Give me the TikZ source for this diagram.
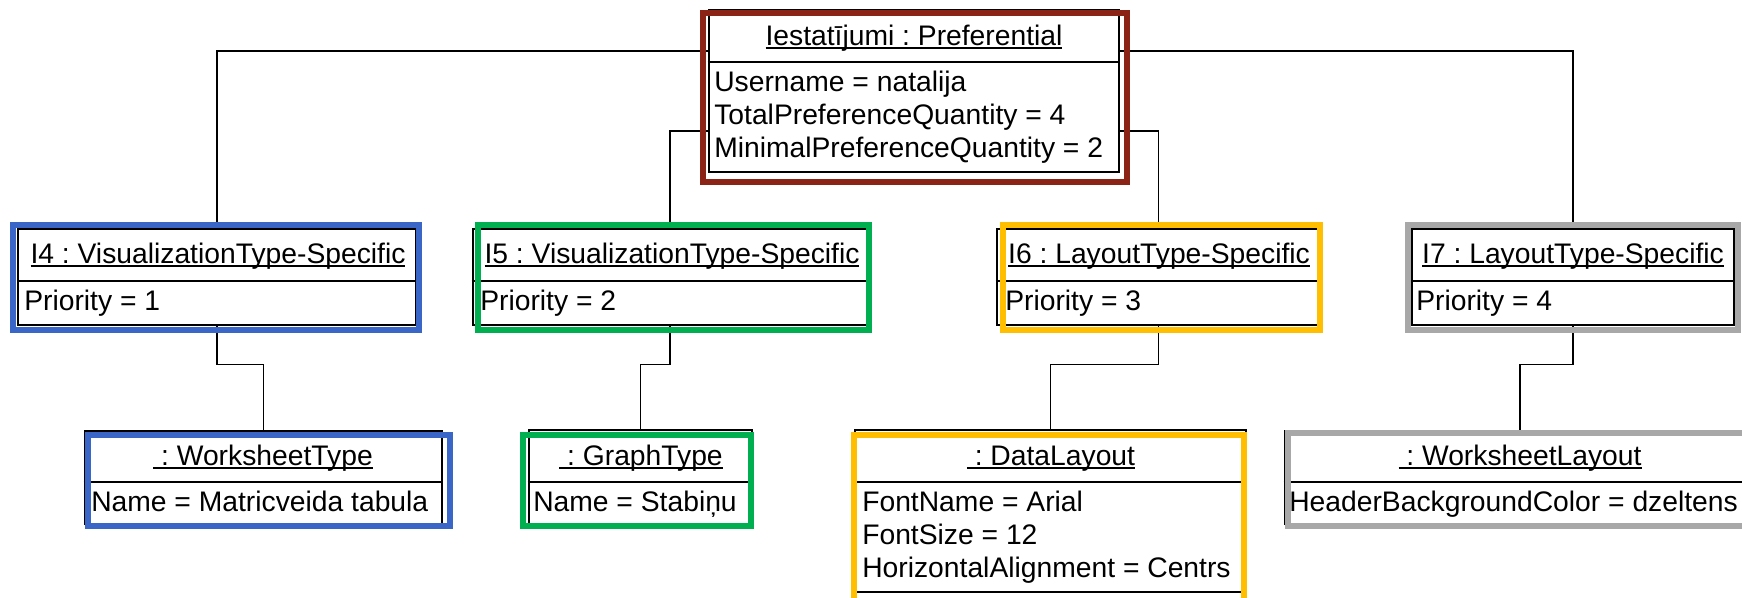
\documentclass[tikz,border=0pt]{standalone}
\usepackage{fontspec}
\setmainfont{Liberation Sans}
\usetikzlibrary{fit}

% underlined object name, rule at a fixed depth below the baseline
\newcommand\objname[1]{\setbox0\hbox{#1}\rlap{\rule[-3pt]{\wd0}{1.3pt}}\box0}

\definecolor{frRed}{HTML}{8B2316}
\definecolor{frBlue}{HTML}{3A67C7}
\definecolor{frGreen}{HTML}{00AF50}
\definecolor{frYellow}{HTML}{FFBF00}
\definecolor{frGray}{HTML}{A8A8A8}

\begin{document}
\frenchspacing
\begin{tikzpicture}[x=0.75pt,y=-0.75pt,
  objbox/.style={draw=black, line width=2pt, inner sep=0pt},
  divider/.style={draw=black, line width=2pt},
  conn/.style={draw=black, line width=1.1pt},
  txt/.style={inner sep=0pt, font=\fontsize{21.2}{25}\selectfont},
  frame/.style={draw=#1, line width=3.8pt}]

\useasboundingbox (0,0) rectangle (1742,597);

% ---------- object boxes ----------
\node[objbox, fit={(709,10) (1119,172)}]   (prefs) {};
\node[objbox, fit={(18,229) (416,325)}]    (i4) {};
\node[objbox, fit={(473,229) (867,325)}]   (i5) {};
\node[objbox, fit={(997,229) (1320,325)}]  (i6) {};
\node[objbox, fit={(1412,229) (1734,325)}] (i7) {};
\node[objbox, fit={(85,431) (442,524)}]    (wst) {};
\node[objbox, fit={(529,430) (752,524)}]   (gt) {};
\node[objbox, fit={(855,430) (1246,592)}]  (dl) {};
\node[objbox, fit={(1285,431) (1755,524)}] (wsl) {};

% header/attribute dividers
\draw[divider] (prefs.west |- 0,62) -- (prefs.east |- 0,62);
\foreach \b in {i4,i5,i6,i7}
  \draw[divider] (\b.west |- 0,281) -- (\b.east |- 0,281);
\foreach \b in {wst,gt,dl,wsl}
  \draw[divider] (\b.west |- 0,482) -- (\b.east |- 0,482);

% ---------- texts ----------
\node[txt, anchor=base] (prefs-name) at (914,45) {\objname{Iestatījumi : Preferential}};
\node[txt, anchor=base west] (prefs-a1) at (714,91)  {Username = natalija};
\node[txt, anchor=base west] (prefs-a2) at (714,124) {TotalPreferenceQuantity = 4};
\node[txt, anchor=base west] (prefs-a3) at (714,157) {MinimalPreferenceQuantity = 2};

\node[txt, anchor=base] (i4-name) at (218,263)  {\objname{I4 : VisualizationType-Specific}};
\node[txt, anchor=base west] (i4-a1) at (24,310) {Priority = 1};
\node[txt, anchor=base] (i5-name) at (672,263)  {\objname{I5 : VisualizationType-Specific}};
\node[txt, anchor=base west] (i5-a1) at (480,310) {Priority = 2};
\node[txt, anchor=base] (i6-name) at (1159,263) {\objname{I6 : LayoutType-Specific}};
\node[txt, anchor=base west] (i6-a1) at (1005,310) {Priority = 3};
\node[txt, anchor=base] (i7-name) at (1573,263) {\objname{I7 : LayoutType-Specific}};
\node[txt, anchor=base west] (i7-a1) at (1416,310) {Priority = 4};

\node[txt, anchor=base] (wst-name) at (263,465) {\objname{\ : WorksheetType}};
\node[txt, anchor=base west] (wst-a1) at (91,511) {Name = Matricveida tabula};
\node[txt, anchor=base] (gt-name) at (641,465)  {\objname{\ : GraphType}};
\node[txt, anchor=base west] (gt-a1) at (533,511) {Name = Stabiņu};
\node[txt, anchor=base] (dl-name) at (1051,465) {\objname{\ : DataLayout}};
\node[txt, anchor=base west] (dl-a1) at (862,511) {FontName = Arial};
\node[txt, anchor=base west] (dl-a2) at (862,544) {FontSize = 12};
\node[txt, anchor=base west] (dl-a3) at (862,577) {HorizontalAlignment = Centrs};
\node[txt, anchor=base] (wsl-name) at (1520,465) {\objname{\ : WorksheetLayout}};
\node[txt, anchor=base west] (wsl-a1) at (1289,511) {HeaderBackgroundColor = dzeltens};

% ---------- links ----------
\draw[conn] (prefs.west |- 0,51)  -| (i4.north);
\draw[conn] (prefs.east |- 0,51)  -| (i7.north);
\draw[conn] (prefs.west |- 0,131) -| (i5.north);
\draw[conn] (prefs.east |- 0,131) -| (i6.north);

\draw[conn] (i4.south) -- ++(0,38) -| (wst.north);
\draw[conn] (i5.south) -- ++(0,38) -| (gt.north);
\draw[conn] (i6.south) -- ++(0,38) -| (dl.north);
\draw[conn] (i7.south) -- ++(0,38) -| (wsl.north);

% ---------- colour highlight frames ----------
\draw[frame=frRed]    (703,13)   rectangle (1127,182);
\draw[frame=frBlue]   (13,225)   rectangle (419,330);
\draw[frame=frGreen]  (478,225)  rectangle (869,330);
\draw[frame=frYellow] (1003,225) rectangle (1320,330);
\draw[frame=frGray]   (1408,225) rectangle (1738,330);
\draw[frame=frBlue]   (88,435)   rectangle (450,526);
\draw[frame=frGreen]  (523,435)  rectangle (751,526);
\draw[frame=frYellow] (854,435)  rectangle (1244,604);
\draw[frame=frGray]   (1288,433) rectangle (1762,526);

\end{tikzpicture}
\end{document}
